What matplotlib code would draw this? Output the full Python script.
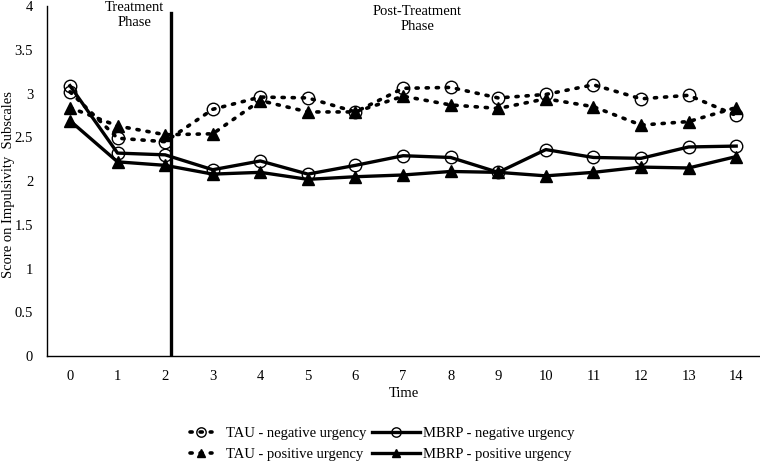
import matplotlib
matplotlib.use("Agg")
import matplotlib.pyplot as plt
import numpy as np

plt.rcParams['font.family'] = ['Liberation Serif', 'DejaVu Serif']

time = list(range(15))
tau_neg = [3.02, 2.49, 2.45, 2.82, 2.96, 2.95, 2.79, 3.06, 3.07, 2.95, 2.99, 3.10, 2.94, 2.98, 2.75]
tau_pos = [2.84, 2.63, 2.53, 2.54, 2.92, 2.79, 2.79, 2.97, 2.87, 2.83, 2.94, 2.85, 2.64, 2.68, 2.84]
mbrp_neg = [3.09, 2.32, 2.30, 2.13, 2.23, 2.08, 2.18, 2.29, 2.27, 2.10, 2.36, 2.27, 2.26, 2.39, 2.40]
mbrp_pos = [2.69, 2.22, 2.18, 2.08, 2.10, 2.02, 2.05, 2.07, 2.11, 2.10, 2.06, 2.10, 2.16, 2.15, 2.28]

fig = plt.figure(figsize=(7.6, 4.62), dpi=100)
ax = fig.add_axes([0.062, 0.229, 0.938, 0.758])

dots = (0, (0.6, 2.2))
l1, = ax.plot(time, tau_neg, color='black', linestyle=dots, linewidth=2.6,
              dash_capstyle='round', marker='o', markersize=9,
              markerfacecolor='none', markeredgecolor='black', markeredgewidth=1.0,
              label='TAU - negative urgency')
l2, = ax.plot(time, tau_pos, color='black', linestyle=dots, linewidth=2.6,
              dash_capstyle='round', marker='^', markersize=8,
              markerfacecolor='black', markeredgecolor='black',
              label='TAU - positive urgency')
l3, = ax.plot(time, mbrp_neg, color='black', linestyle='-', linewidth=2.4,
              marker='o', markersize=9, markerfacecolor='none',
              markeredgecolor='black', markeredgewidth=1.0,
              label='MBRP - negative urgency')
l4, = ax.plot(time, mbrp_pos, color='black', linestyle='-', linewidth=2.4,
              marker='^', markersize=8, markerfacecolor='black',
              markeredgecolor='black', label='MBRP - positive urgency')

ax.plot([2.12, 2.12], [0, 3.92], color='black', linewidth=2.4)

ax.set_xlim(-0.48, 14.5)
ax.set_ylim(0, 4)
ax.set_xticks(time)
ax.set_yticks(np.arange(0, 4.01, 0.5))
ax.set_yticklabels(['0', '0.5', '1', '1.5', '2', '2.5', '3', '3.5', '4'])
ax.tick_params(axis='both', length=0, labelsize=10.5)
ax.tick_params(axis='x', pad=10)
ax.tick_params(axis='y', pad=10)
ax.spines['top'].set_visible(False)
ax.spines['right'].set_visible(False)
ax.spines['left'].set_linewidth(1.0)
ax.spines['bottom'].set_linewidth(1.0)

ax.set_xlabel('Time', fontsize=10.5, labelpad=3)
ax.set_ylabel('Score on Impulsivity  Subscales', fontsize=10.5)
ax.yaxis.set_label_coords(-0.045, 0.49)

ax.text(1.36, 3.90, 'Treatment\nPhase', ha='center', va='center', fontsize=10.5)
ax.text(7.3, 3.85, 'Post-Treatment\nPhase', ha='center', va='center', fontsize=10.5)

# two legend columns, the left one has shorter handles
leg1 = fig.legend(handles=[l1, l2], loc='lower left', bbox_to_anchor=(0.25, 0.002),
                  frameon=False, fontsize=10.5, handlelength=1.5, handletextpad=1.0,
                  labelspacing=0.55, borderpad=0, borderaxespad=0, markerscale=0.75)
leg2 = fig.legend(handles=[l3, l4], loc='lower left', bbox_to_anchor=(0.489, 0.002),
                  frameon=False, fontsize=10.5, handlelength=3.3, handletextpad=0.2,
                  labelspacing=0.55, borderpad=0, borderaxespad=0, markerscale=0.75)

fig.savefig('out.png', dpi=100)
